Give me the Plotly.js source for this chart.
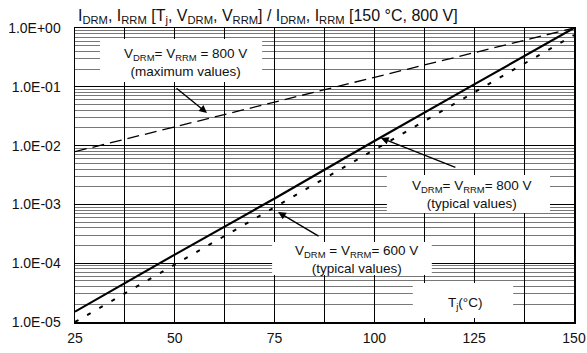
<!DOCTYPE html>
<html>
<head>
<meta charset="utf-8">
<script src="https://cdn.plot.ly/plotly-3.0.1.min.js"></script>
<style>body{margin:0;padding:0;background:#fff;}#chart{width:587px;height:353px;}</style>
</head>
<body>
<div id="chart"></div>
<script>
// Data
const tj = [25, 50, 75, 100, 125, 150];
const maxValues800 = [7.9e-3, 2.1e-2, 5.5e-2, 0.145, 0.38, 1.0];
const typical800 = [1.5e-5, 1.4e-4, 1.26e-3, 1.2e-2, 0.11, 1.0];
const typical600 = [1.0e-5, 9.5e-5, 8.9e-4, 8.5e-3, 7.9e-2, 0.76];
const xTickVals = [25, 37.5, 50, 62.5, 75, 87.5, 100, 112.5, 125, 137.5, 150];
const xTickText = ['25', '', '50', '', '75', '', '100', '', '125', '', '150'];
const yTickVals = [1e-5, 1e-4, 1e-3, 1e-2, 1e-1, 1];
const yTickText = ['1.0E-05', '1.0E-04', '1.0E-03', '1.0E-02', '1.0E-01', '1.0E+00'];

const minorY = [];
for (let e = -5; e < 0; e++) for (let m = 2; m <= 9; m++) minorY.push(m * Math.pow(10, e));

const FONT = 'Liberation Sans, Arial, sans-serif';
const traces = [
  {x: tj, y: maxValues800, mode: 'lines', line: {color: '#000', width: 1.3, dash: '12px,6px'}},
  {x: tj, y: typical800, mode: 'lines', line: {color: '#000', width: 2.2}},
  {x: tj, y: typical600, mode: 'lines', line: {color: '#000', width: 2, dash: '4px,10px'}}
];

function box(x0, x1, y0, y1) {
  return {type: 'rect', xref: 'paper', yref: 'paper', x0: x0, x1: x1, y0: y0, y1: y1,
    fillcolor: '#fff', line: {width: 0}, layer: 'above'};
}
function label(x, y, text) {
  return {xref: 'paper', yref: 'paper', x: x, y: y, xanchor: 'center', yanchor: 'middle',
    text: text, showarrow: false,
    font: {family: FONT, size: 13.5, color: '#111'}, align: 'center'};
}
function arrow(x, y, ax, ay) {
  return {xref: 'paper', yref: 'paper', x: x, y: y, text: '', showarrow: true,
    ax: ax, ay: ay, arrowhead: 2, arrowsize: 1.1, arrowwidth: 1.4, arrowcolor: '#000', standoff: 0};
}

const layout = {
  width: 587, height: 353,
  margin: {l: 75, r: 13, t: 28, b: 31},
  paper_bgcolor: '#fff', plot_bgcolor: '#fff',
  showlegend: false,
  font: {family: FONT, size: 14, color: '#111'},
  xaxis: {
    range: [25, 150], tickmode: 'array', tickvals: xTickVals, ticktext: xTickText,
    showgrid: true, gridcolor: '#000', gridwidth: 1,
    ticks: 'inside', ticklen: 4, tickcolor: '#000',
    showline: true, linecolor: '#000', linewidth: 1.5, mirror: true,
    zeroline: false, ticklabelstandoff: 3, tickfont: {family: FONT, size: 14, color: '#111'}
  },
  yaxis: {
    type: 'log', range: [-5, 0], tickmode: 'array', tickvals: yTickVals, ticktext: yTickText,
    showgrid: true, gridcolor: '#000', gridwidth: 1,
    minor: {tickmode: 'array', tickvals: minorY, showgrid: true, gridcolor: '#777', gridwidth: 1, ticks: ''},
    ticks: '', showline: true, linecolor: '#000', linewidth: 1.5, mirror: true,
    zeroline: false, ticklabelstandoff: 10, tickfont: {family: FONT, size: 14, color: '#111'}
  },
  shapes: [
    box(0.050, 0.375, 0.816, 0.963),
    box(0.625, 0.952, 0.371, 0.500),
    box(0.395, 0.715, 0.160, 0.272),
    box(0.677, 0.878, 0.0136, 0.133)
  ],
  annotations: [
    {xref: 'paper', yref: 'paper', x: 0.003, y: 1.0, xanchor: 'left', yanchor: 'bottom', yshift: 0,
      showarrow: false, font: {family: FONT, size: 16, color: '#111'},
      text: 'I<sub>DRM</sub>, I<sub>RRM</sub> [T<sub>j</sub>, V<sub>DRM</sub>, V<sub>RRM</sub>] / I<sub>DRM</sub>, I<sub>RRM</sub> [150 °C, 800 V]'},
    label(0.2205, 0.884, 'V<sub>DRM</sub>= V<sub>RRM</sub> = 800 V<br>(maximum values)'),
    label(0.795, 0.432, 'V<sub>DRM</sub>= V<sub>RRM</sub>= 800 V<br>(typical values)'),
    label(0.565, 0.214, 'V<sub>DRM</sub> = V<sub>RRM</sub>= 600 V<br>(typical values)'),
    label(0.782, 0.0646, 'T<sub>j</sub>(°C)'),
    arrow(0.2645, 0.711, -32, -26),
    arrow(0.613, 0.626, 76, 30),
    arrow(0.407, 0.374, 42, 25)
  ]
};

Plotly.newPlot('chart', traces, layout, {staticPlot: true, displayModeBar: false});
</script>
</body>
</html>
